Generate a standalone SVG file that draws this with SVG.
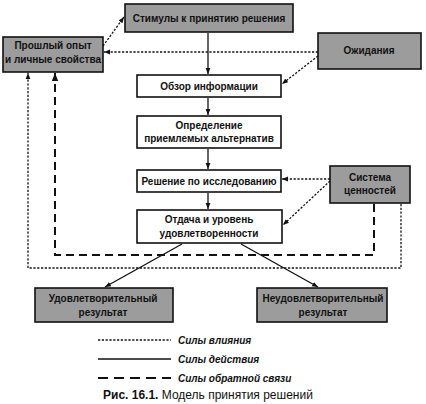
<svg xmlns="http://www.w3.org/2000/svg" width="426" height="404" viewBox="0 0 426 404">
<style>
  .shade { fill: #9c9c9c; stroke: #111; stroke-width: 1.6; }
  .plain { fill: #fff; stroke: #111; stroke-width: 1.6; }
  .t { font-family: "Liberation Sans", Arial, sans-serif; font-weight: bold; font-size: 10px; fill: #111; text-anchor: middle; }
  .act { fill: none; stroke: #111; stroke-width: 1.3; }
  .inf { fill: none; stroke: #111; stroke-width: 1.3; stroke-dasharray: 2.2 1.6; }
  .fb { fill: none; stroke: #111; stroke-width: 2; stroke-dasharray: 8 5; }
  .leg { font-family: "Liberation Sans", Arial, sans-serif; font-weight: bold; font-style: italic; font-size: 10px; fill: #111; }
  .cap { font-family: "Liberation Sans", Arial, sans-serif; font-size: 12px; fill: #111; }
</style>
<defs>
  <marker id="ah" viewBox="0 0 10 10" refX="10" refY="5" markerWidth="6" markerHeight="6" markerUnits="userSpaceOnUse" orient="auto">
    <path d="M0,1 L10,5 L0,9 Z" fill="#111"/>
  </marker>
  <marker id="ahb" viewBox="0 0 10 10" refX="10" refY="5" markerWidth="9" markerHeight="8" markerUnits="userSpaceOnUse" orient="auto">
    <path d="M0,1 L10,5 L0,9 Z" fill="#111"/>
  </marker>
</defs>
<rect width="426" height="404" fill="#fff"/>

<g id="connectors">
  <!-- action (solid) -->
  <line class="act" x1="208" y1="33" x2="208" y2="74" marker-end="url(#ah)"/>
  <line class="act" x1="208" y1="98" x2="208" y2="115" marker-end="url(#ah)"/>
  <line class="act" x1="208" y1="149" x2="208" y2="169" marker-end="url(#ah)"/>
  <line class="act" x1="208" y1="193" x2="208" y2="209" marker-end="url(#ah)"/>
  <line class="act" x1="182" y1="244" x2="105" y2="287" marker-end="url(#ah)"/>
  <line class="act" x1="241" y1="244" x2="318" y2="287" marker-end="url(#ah)"/>
  <!-- influence (dotted) -->
  <line class="inf" x1="103" y1="46" x2="124" y2="17" marker-end="url(#ah)"/>
  <line class="inf" x1="318" y1="52" x2="104" y2="52" marker-end="url(#ah)"/>
  <line class="inf" x1="318" y1="56" x2="282" y2="84" marker-end="url(#ah)"/>
  <line class="inf" x1="330" y1="179" x2="282" y2="179" marker-end="url(#ah)"/>
  <line class="inf" x1="330" y1="181" x2="283" y2="225" marker-end="url(#ah)"/>
  <polyline class="inf" points="401,204 401,268 28,268 28,73" marker-end="url(#ah)"/>
  <!-- feedback (long dash) -->
  <polyline class="fb" points="374,204 374,255 55,255 55,73" marker-end="url(#ahb)"/>
</g>

<g id="n-stimuly">
  <rect class="shade" x="125" y="4" width="168" height="28"/>
  <text class="t" x="209" y="22">Стимулы к принятию решения</text>
</g>
<g id="n-proshly">
  <rect class="shade" x="3" y="37" width="100" height="35"/>
  <text class="t" x="53" y="49">Прошлый опыт</text>
  <text class="t" x="53" y="63">и личные свойства</text>
</g>
<g id="n-ozhidaniya">
  <rect class="shade" x="318" y="33" width="103" height="36"/>
  <text class="t" x="369" y="54">Ожидания</text>
</g>
<g id="n-obzor">
  <rect class="plain" x="137" y="75" width="144" height="22"/>
  <text class="t" x="209" y="90">Обзор информации</text>
</g>
<g id="n-opredelenie">
  <rect class="plain" x="137" y="116" width="144" height="32"/>
  <text class="t" x="209" y="129">Определение</text>
  <text class="t" x="209" y="142">приемлемых альтернатив</text>
</g>
<g id="n-reshenie">
  <rect class="plain" x="137" y="170" width="144" height="22"/>
  <text class="t" x="209" y="185">Решение по исследованию</text>
</g>
<g id="n-otdacha">
  <rect class="plain" x="137" y="210" width="145" height="33"/>
  <text class="t" x="209" y="223">Отдача и уровень</text>
  <text class="t" x="209" y="237">удовлетворенности</text>
</g>
<g id="n-sistema">
  <rect class="shade" x="330" y="166" width="80" height="37"/>
  <text class="t" x="370" y="181">Система</text>
  <text class="t" x="370" y="194">ценностей</text>
</g>
<g id="n-udovl">
  <rect class="shade" x="35" y="288" width="138" height="34"/>
  <text class="t" x="103" y="302">Удовлетворительный</text>
  <text class="t" x="103" y="316">результат</text>
</g>
<g id="n-neudovl">
  <rect class="shade" x="257" y="288" width="130" height="34"/>
  <text class="t" x="323" y="302">Неудовлетворительный</text>
  <text class="t" x="323" y="316">результат</text>
</g>

<g id="legend">
  <line class="inf" x1="98" y1="340" x2="171" y2="340"/>
  <text class="leg" x="178" y="344">Силы влияния</text>
  <line class="act" x1="98" y1="359" x2="171" y2="359"/>
  <text class="leg" x="178" y="363">Силы действия</text>
  <line class="fb" x1="98" y1="378" x2="171" y2="378" style="stroke-dasharray: 10 6"/>
  <text class="leg" x="178" y="382">Силы обратной связи</text>
  <text class="cap" x="103" y="399"><tspan font-weight="bold">Рис. 16.1.</tspan> Модель принятия решений</text>
</g>
</svg>
